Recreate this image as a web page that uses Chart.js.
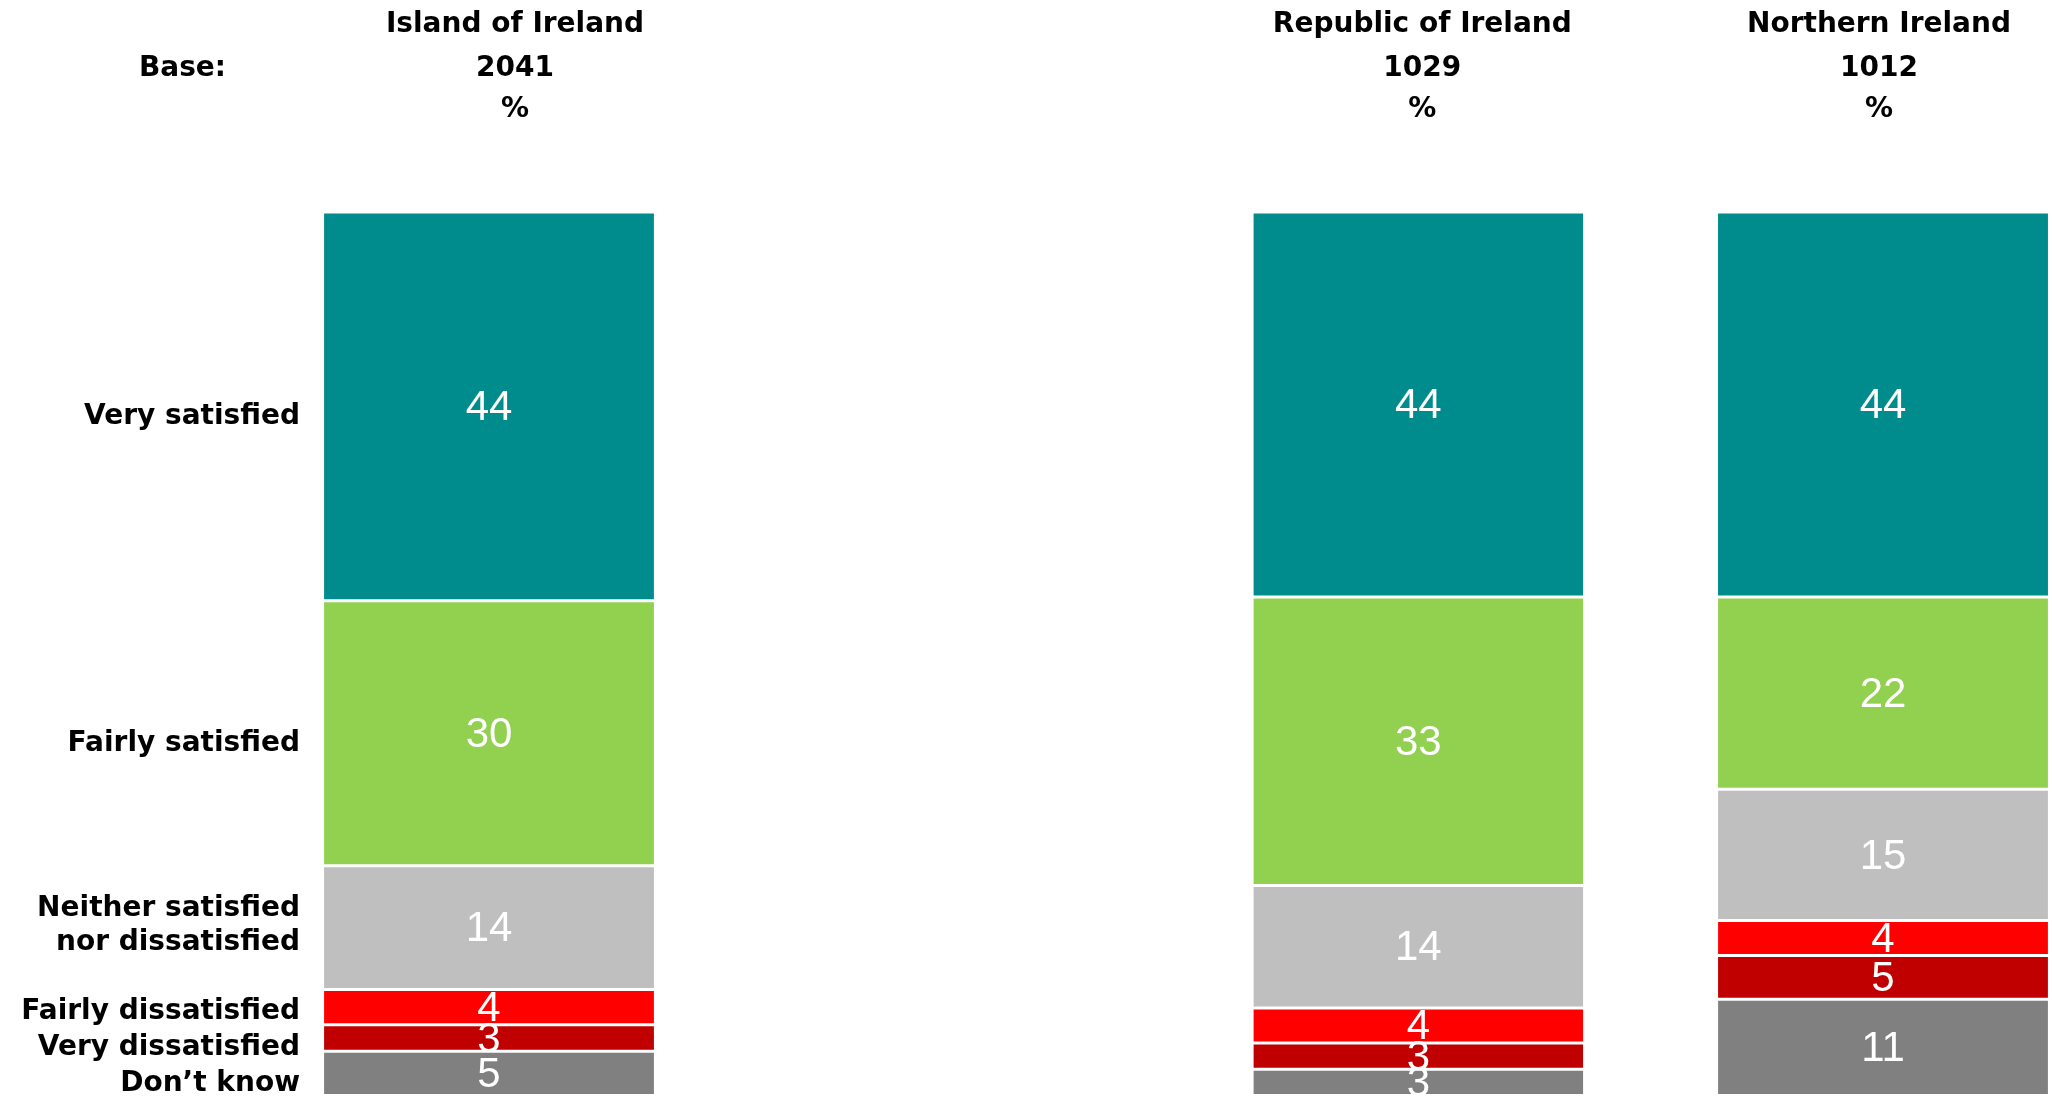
<!DOCTYPE html>
<html>
<head>
<meta charset="utf-8">
<script src="https://cdn.jsdelivr.net/npm/chart.js@4/dist/chart.umd.min.js"></script>
<style>
  html, body { margin: 0; padding: 0; background: #fff; }
  #wrap { width: 2052px; height: 1098px; position: relative; }
</style>
</head>
<body>
<div id="wrap"><canvas id="chart"></canvas></div>
<script>
// columns (the blank one keeps the gap between Island and Republic)
const columns = ['Island of Ireland', '', 'Republic of Ireland', 'Northern Ireland'];
const bases = ['2041', '', '1029', '1012'];

// answers, top to bottom
const responses = ['Very satisfied', 'Fairly satisfied', ['Neither satisfied', 'nor dissatisfied'],
                   'Fairly dissatisfied', 'Very dissatisfied', 'Don\u2019t know'];
const verySatisfied      = [44, null, 44, 44];
const fairlySatisfied    = [30, null, 33, 22];
const neither            = [14, null, 14, 15];
const fairlyDissatisfied = [4, null, 4, 4];
const veryDissatisfied   = [3, null, 3, 5];
const dontKnow           = [5, null, 3, 11];

const colours = ['#008C8C', '#92D050', '#BFBFBF', '#FF0000', '#C00000', '#808080'];

const series = [verySatisfied, fairlySatisfied, neither, fairlyDissatisfied, veryDissatisfied, dontKnow];

// every column is drawn as a full 100% stack
const totals = columns.map((c, j) => series.reduce((s, arr) => s + (arr[j] || 0), 0));

// Chart.js stacks the first dataset at the bottom, so go bottom-up
const datasets = [];
for (let i = series.length - 1; i >= 0; i--) {
    datasets.push({
        label: Array.isArray(responses[i]) ? responses[i].join(' ') : responses[i],
        lines: Array.isArray(responses[i]) ? responses[i] : [responses[i]],
        raw: series[i],
        data: series[i].map((v, j) => v == null ? null : v / totals[j] * 100),
        backgroundColor: colours[i],
        borderColor: '#ffffff',
        borderWidth: { top: 1.5, bottom: 1.5, left: 0, right: 0 },
        borderSkipped: false,
        categoryPercentage: 1,
        barPercentage: 0.71,
        clip: false
    });
}

const headerShift = [26, 0, 4, -4];

const labelPlugin = {
    id: 'labelPlugin',
    afterDatasetsDraw(chart) {
        const ctx = chart.ctx;
        const area = chart.chartArea;
        ctx.save();

        // values inside the segments
        ctx.font = '42px "Liberation Sans", Arial, sans-serif';
        ctx.fillStyle = '#ffffff';
        ctx.textAlign = 'center';
        ctx.textBaseline = 'middle';
        chart.data.datasets.forEach((ds, i) => {
            chart.getDatasetMeta(i).data.forEach((bar, j) => {
                if (ds.raw[j] == null) return;
                const p = bar.getProps(['x', 'y', 'base'], true);
                ctx.fillText(String(ds.raw[j]), p.x, (p.y + p.base) / 2 + 2);
            });
        });

        // answer labels left of the first bar
        ctx.font = 'bold 28px "DejaVu Sans", Verdana, sans-serif';
        ctx.fillStyle = '#000000';
        ctx.textAlign = 'right';
        const lineH = 34;
        const items = chart.data.datasets.map((ds, i) => {
            const p = chart.getDatasetMeta(i).data[0].getProps(['y', 'base'], true);
            const shift = ds.lines.length > 1 ? -2 : 10;
            return { lines: ds.lines, y: (p.y + p.base) / 2 + shift };
        }); // bottom-up order
        items[0].y = Math.min(items[0].y, area.bottom - 8);
        for (let k = 1; k < items.length; k++) {
            const gap = (items[k].lines.length + items[k - 1].lines.length) * lineH / 2 + 2;
            items[k].y = Math.min(items[k].y, items[k - 1].y - gap);
        }
        items.forEach(it => {
            const top = it.y - (it.lines.length - 1) * lineH / 2;
            it.lines.forEach((t, n) => ctx.fillText(t, 300, top + n * lineH));
        });

        // column headers
        ctx.textAlign = 'center';
        ctx.textBaseline = 'alphabetic';
        const xScale = chart.scales.x;
        columns.forEach((c, j) => {
            if (!c) return;
            const x = xScale.getPixelForValue(j) + headerShift[j];
            ctx.fillText(c, x, 32);
            ctx.fillText(bases[j], x, 76);
            ctx.fillText('%', x, 117);
        });
        ctx.textAlign = 'right';
        ctx.fillText('Base:', 226, 76);

        ctx.restore();
    }
};

const ctx = document.getElementById('chart').getContext('2d');
const myChart = new Chart(ctx, {
    type: 'bar',
    data: {
        labels: columns,
        datasets: datasets
    },
    options: {
        responsive: true,
        maintainAspectRatio: false,
        animation: false,
        devicePixelRatio: 1,
        layout: {
            padding: { top: 212, bottom: 2.5, left: 489, right: 169 }
        },
        plugins: {
            legend: { display: false },
            tooltip: { enabled: false },
            title: { display: false }
        },
        scales: {
            x: {
                stacked: true,
                offset: false,
                display: false
            },
            y: {
                stacked: true,
                min: 0,
                max: 100,
                display: false
            }
        }
    },
    plugins: [labelPlugin]
});
</script>
</body>
</html>
